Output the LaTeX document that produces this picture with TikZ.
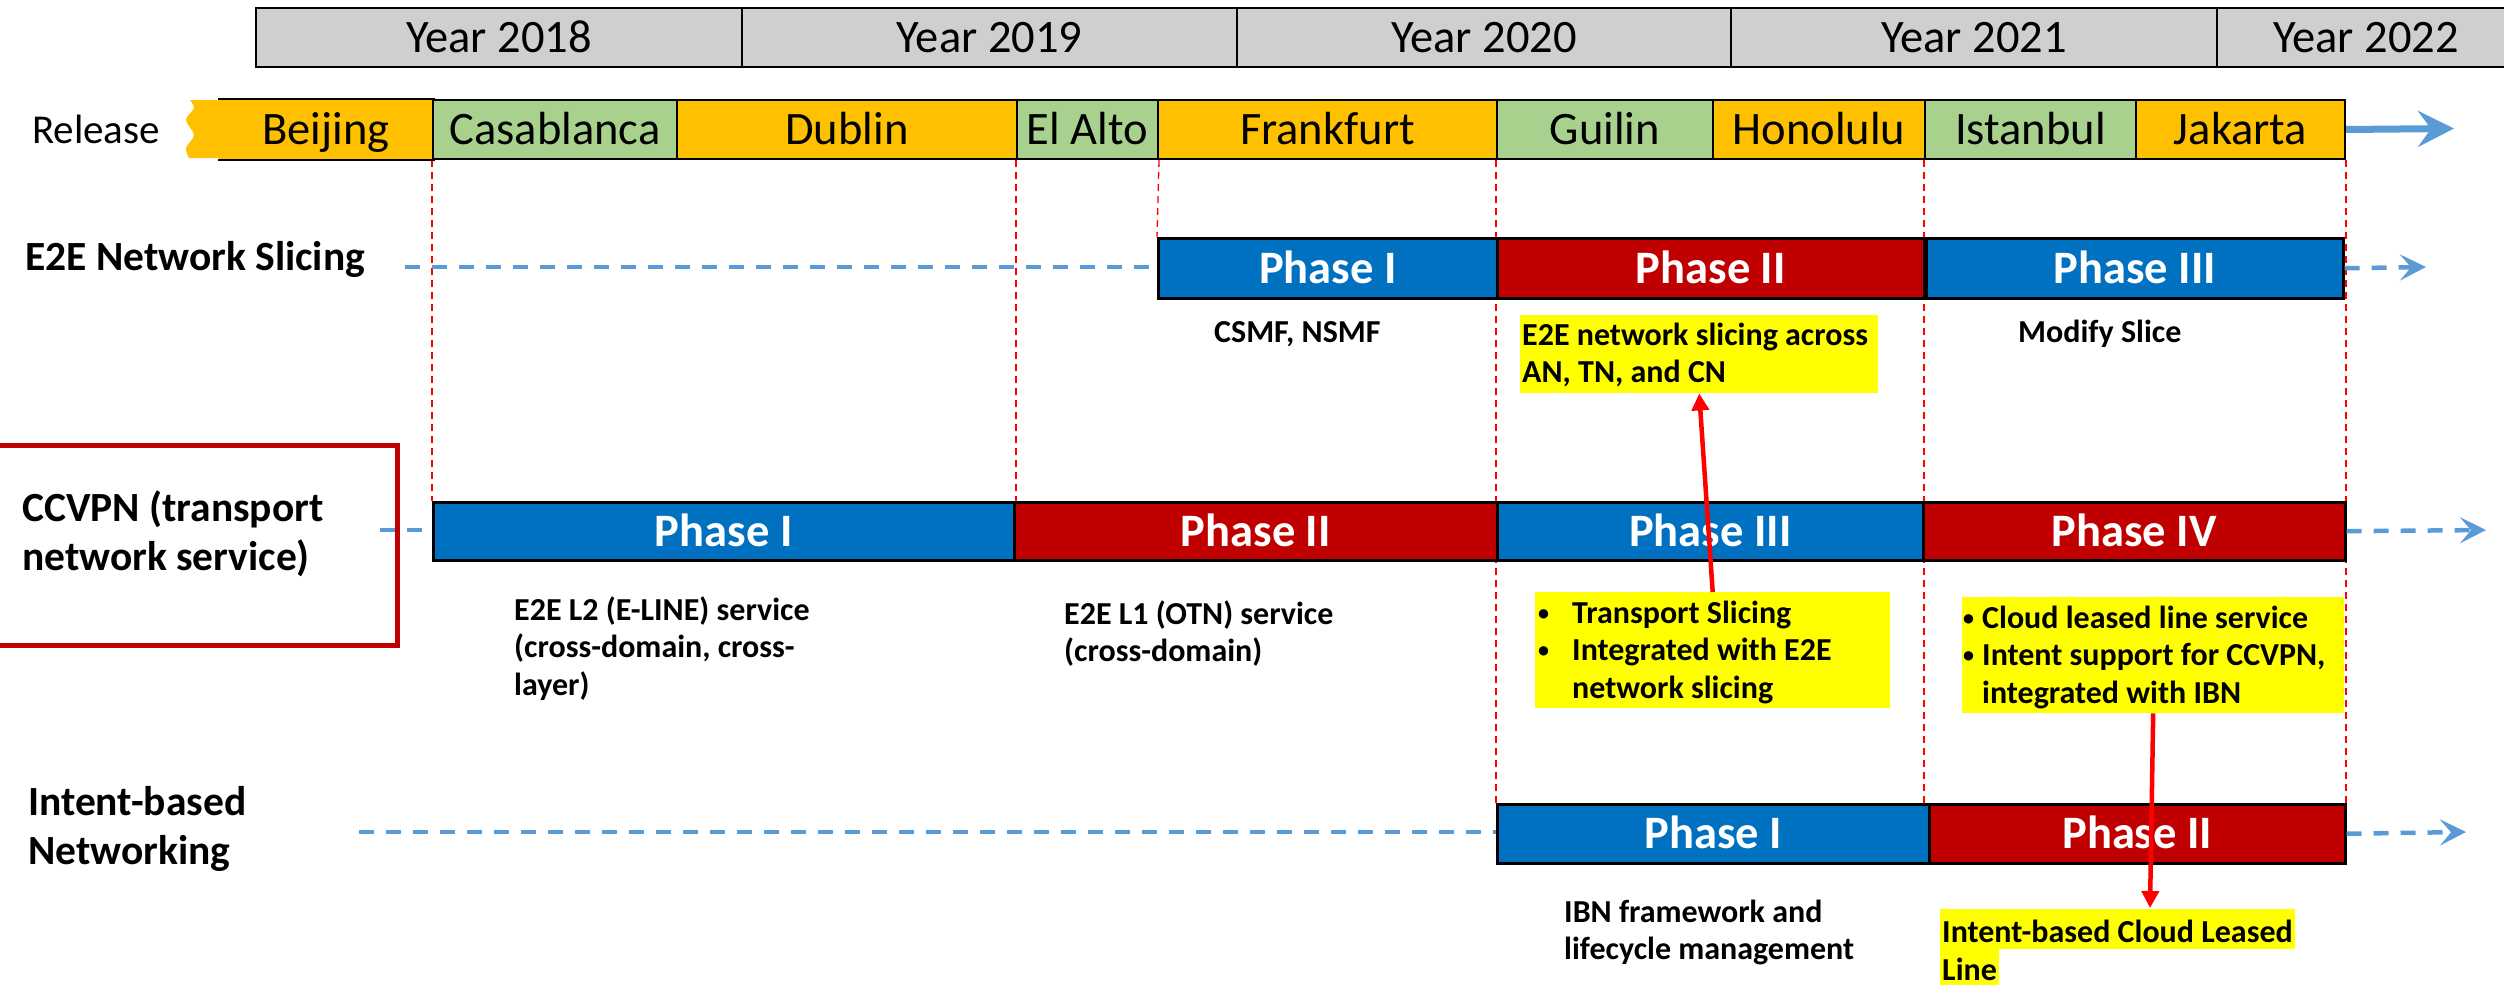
\documentclass[tikz,border=0pt]{standalone}
\usepackage{fontspec}
\setmainfont{Carlito}
\usetikzlibrary{arrows.meta}

\definecolor{yeargray}{HTML}{D0CECE}
\definecolor{relorange}{HTML}{FFC000}
\definecolor{relgreen}{HTML}{A9D18E}
\definecolor{phblue}{HTML}{0070C0}
\definecolor{phred}{HTML}{C00000}
\definecolor{dashblue}{HTML}{5B9BD5}
\definecolor{hiyellow}{HTML}{FFFF00}
\definecolor{guidered}{HTML}{FF0000}

\pgfdeclarelayer{background}
\pgfsetlayers{background,main}

% stacked lines whose baseline is the first line's baseline
\newcommand\stacktwo[2]{\vtop{\hbox{#1}\hbox{#2}}}
\newcommand\stackthree[3]{\vtop{\hbox{#1}\hbox{#2}\hbox{#3}}}
% small list bullet in a box of the given width
\newcommand\bul[1]{\makebox[#1][l]{\raisebox{3pt}{\fontsize{22}{22}\selectfont •}}}

\tikzset{
  box/.style={rectangle, inner sep=0pt, anchor=north west, text height=31pt, text depth=1pt},
  yearbox/.style={box, draw=black, line width=2pt, fill=yeargray, font=\fontsize{46.5}{55}\selectfont},
  relbox/.style={box, draw=black, line width=2pt, font=\fontsize{46.5}{55}\selectfont},
  relline/.style={draw=black, line width=2pt},
  phasebox/.style={box, draw=black, line width=2.5pt, text=white, font=\fontsize{46.5}{55}\selectfont\bfseries},
  bluephase/.style={phasebox, fill=phblue},
  redphase/.style={phasebox, fill=phred},
  hlbox/.style={rectangle, inner sep=0pt, anchor=north west, fill=hiyellow},
  lbl/.style={anchor=base west, inner sep=0pt, font=\fontsize{41.5}{49}\selectfont\bfseries},
  desc/.style={anchor=base west, inner sep=0pt, font=\fontsize{32}{37.5}\selectfont\bfseries},
  hlline/.style={desc, fill=hiyellow, inner xsep=2pt, text height=33pt, text depth=7pt},
  guide/.style={guidered, line width=1.3pt, dash pattern=on 7pt off 5pt},
  flow/.style={dashblue, line width=4.5pt, dash pattern=on 15pt off 12pt},
  flowarrow/.style={flow, -{Stealth[length=26pt,width=26pt,inset=11pt]}},
  relarrow/.style={dashblue, line width=7pt, -{Stealth[length=36pt,width=36pt,inset=13pt]}},
  link/.style={guidered, line width=4.5pt, -{Triangle[length=17pt,width=17pt]}}
}

\begin{document}
\begin{tikzpicture}[x=1pt,y=-1pt]
\useasboundingbox (0,0) rectangle (2504,985);

% ---- years ----
\node[yearbox, minimum width=486pt, minimum height=59pt] (y18) at (255,7) {Year 2018};
\node[yearbox, minimum width=495pt, minimum height=59pt] (y19) at (741,7) {Year 2019};
\node[yearbox, minimum width=494pt, minimum height=59pt] (y20) at (1236,7) {Year 2020};
\node[yearbox, minimum width=486pt, minimum height=59pt] (y21) at (1730,7) {Year 2021};
\node[yearbox, minimum width=298pt, minimum height=59pt] (y22) at (2216,7) {Year 2022};

% ---- releases ----
\node[anchor=base west, inner sep=0pt, font=\fontsize{41}{49}\selectfont] (rellbl) at (32,143) {Release};
\fill[relorange] plot[smooth] coordinates {(190,100) (194,108) (186,120) (194,135) (186,148) (189,158)} -- (220,158) -- (220,100) -- cycle;
\node[relbox, draw=none, fill=relorange, minimum width=214pt, minimum height=59pt] (beijing) at (218,99) {Beijing};
\draw[relline] (beijing.north west) -- (beijing.north east) -- (beijing.south east) -- (beijing.south west);
\node[relbox, fill=relgreen, minimum width=244pt, minimum height=59pt] (casablanca) at (432,99) {Casablanca};
\node[relbox, fill=relorange, minimum width=340pt, minimum height=59pt] (dublin) at (676,99) {Dublin};
\node[relbox, fill=relgreen, minimum width=141pt, minimum height=59pt] (elalto) at (1016,99) {El Alto};
\node[relbox, fill=relorange, minimum width=339pt, minimum height=59pt] (frankfurt) at (1157,99) {Frankfurt};
\node[relbox, fill=relgreen, minimum width=216pt, minimum height=59pt] (guilin) at (1496,99) {Guilin};
\node[relbox, fill=relorange, minimum width=212pt, minimum height=59pt] (honolulu) at (1712,99) {Honolulu};
\node[relbox, fill=relgreen, minimum width=211pt, minimum height=59pt] (istanbul) at (1924,99) {Istanbul};
\node[relbox, fill=relorange, minimum width=209pt, minimum height=59pt] (jakarta) at (2135,99) {Jakarta};
\coordinate (relend) at (2454,128.5);
\draw[relarrow] (jakarta.east) -- (relend);

% ---- E2E network slicing ----
\node[lbl] (e2elbl) at (25,270) {E2E Network Slicing};
\coordinate (e2estart) at (405,267);
\coordinate (e2eend) at (2426,267);
\draw[flow] (e2estart) -- (1157,267);
\node[bluephase, minimum width=339pt, minimum height=60pt] (e2ep1) at (1157,237) {Phase I};
\node[redphase, minimum width=427pt, minimum height=60pt] (e2ep2) at (1496,237) {Phase II};
\node[bluephase, minimum width=417pt, minimum height=60pt] (e2ep3) at (1925,237) {Phase III};
\draw[flowarrow] (e2ep3.east) -- (e2eend);
\node[desc] (csmf) at (1214,342) {CSMF, NSMF};
\node[hlbox, minimum width=358pt, minimum height=78pt] (e2ehl) at (1520,315) {};
\node[desc] (e2ehltxt) at (1522,345) {\stacktwo{E2E network slicing across}{AN, TN, and CN}};
\node[desc] (modify) at (2018,342) {Modify Slice};

% ---- CCVPN ----
\coordinate (ccstart) at (380,530);
\coordinate (ccend) at (2486,530);
\draw[flow] (ccstart) -- (432,530);
\node[rectangle, draw=phred, line width=5pt, inner sep=0pt, anchor=north west, minimum width=405pt, minimum height=200pt] (ccframe) at (-10,443) {};
\node[lbl] (cclbl) at (22,521) {\stacktwo{CCVPN (transport}{network service)}};
\node[bluephase, minimum width=581pt, minimum height=58pt] (ccp1) at (432,501) {Phase I};
\node[redphase, minimum width=483pt, minimum height=58pt] (ccp2) at (1013,501) {Phase II};
\node[bluephase, minimum width=426pt, minimum height=58pt] (ccp3) at (1496,501) {Phase III};
\node[redphase, minimum width=422pt, minimum height=58pt] (ccp4) at (1922,501) {Phase IV};
\draw[flowarrow] (ccp4.east) -- (ccend);
\node[desc] (l2txt) at (514,620) {\stackthree{E2E L2 (E-LINE) service}{(cross-domain, cross-}{layer)}};
\node[desc] (l1txt) at (1064,624) {\stacktwo{E2E L1 (OTN) service}{(cross-domain)}};
\node[hlbox, minimum width=355pt, minimum height=116pt] (ccy1) at (1535,592) {};
\node[desc] (ccy1txt) at (1538,623) {\stackthree{\bul{34pt}Transport Slicing}{\bul{34pt}Integrated with E2E}{\hspace*{34pt}network slicing}};
\node[hlbox, minimum width=382pt, minimum height=116pt] (ccy2) at (1962,597) {};
\node[desc] (ccy2txt) at (1963,628) {\stackthree{\bul{19pt}Cloud leased line service}{\bul{19pt}Intent support for CCVPN,}{\hspace*{19pt}integrated with IBN}};

% ---- Intent-based networking ----
\node[lbl] (ibnlbl) at (28,815) {\stacktwo{Intent-based}{Networking}};
\coordinate (ibnstart) at (359,832);
\coordinate (ibnend) at (2466,832);
\draw[flow] (ibnstart) -- (1496,832);
\node[bluephase, minimum width=432pt, minimum height=59pt] (ibnp1) at (1496,803) {Phase I};
\node[redphase, minimum width=416pt, minimum height=59pt] (ibnp2) at (1928,803) {Phase II};
\draw[flowarrow] (ibnp2.east) -- (ibnend);
\node[desc] (ibntxt) at (1564,922) {\stacktwo{IBN framework and}{lifecycle management}};
\node[hlline] (ibnhl1) at (1940,942) {Intent-based Cloud Leased};
\node[hlline] (ibnhl2) at (1940,980) {Line};
\coordinate (hltip) at (2150,908);

% ---- release boundaries ----
\begin{pgfonlayer}{background}
\draw[guide] (casablanca.south west) -- (casablanca.south west |- ccp1.north);
\draw[guide] (elalto.south west) -- (elalto.south west |- ccp2.north);
\draw[guide] (elalto.south east) -- (e2ep1.north west);
\draw[guide] (guilin.south west) -- (guilin.south west |- ibnp1.north);
\draw[guide] (istanbul.south west) -- (istanbul.south west |- ibnp2.north);
\draw[guide] (jakarta.south east) -- (jakarta.south east |- ibnp2.north);
\end{pgfonlayer}

% ---- dependencies ----
\draw[link] (ccy1.north) -- (e2ehl.south);
\draw[link] (ccy2.south) -- (hltip);

\end{tikzpicture}
\end{document}
